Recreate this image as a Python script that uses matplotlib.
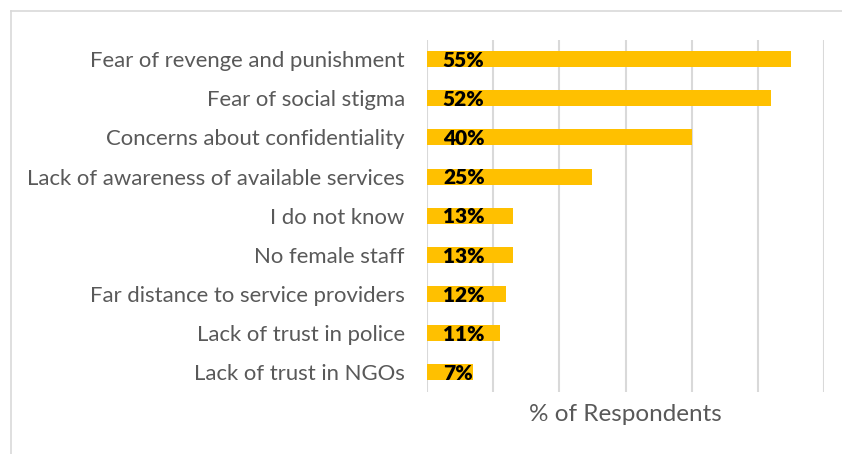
import matplotlib
matplotlib.use("Agg")
import matplotlib.pyplot as plt
from matplotlib.lines import Line2D

# Reasons given for not reporting, share of respondents (%)
reasons = [
    "Fear of revenge and punishment",
    "Fear of social stigma",
    "Concerns about confidentiality",
    "Lack of awareness of available services",
    "I do not know",
    "No female staff",
    "Far distance to service providers",
    "Lack of trust in police",
    "Lack of trust in NGOs",
]
shares = [55, 52, 40, 25, 13, 13, 12, 11, 7]
grid_ticks = [0, 10, 20, 30, 40, 50, 60]

W, H = 842, 454
plt.rcParams["font.family"] = ["Lato", "DejaVu Sans"]
fig = plt.figure(figsize=(W / 100, H / 100), dpi=100)

# axes placed in pixel units
x0, x1 = 427, 824
y_top, y_bot = 39.5, 392
ax = fig.add_axes([x0 / W, 1 - y_bot / H, (x1 - x0) / W, (y_bot - y_top) / H])

gold = "#FFC000"
gray = "#595959"
ypos = list(range(len(reasons)))
ax.barh(ypos, shares, height=0.41, color=gold, zorder=3)

for y, v in zip(ypos, shares):
    ax.text(2.4, y + 0.03, f"{v}%", ha="left", va="center", fontsize=15,
            fontweight="heavy", color="black", zorder=4)

ax.set_xlim(0, 60)
ax.set_ylim(len(reasons) - 0.5, -0.5)
ax.set_xticks(grid_ticks)
ax.set_xticklabels([])
ax.tick_params(axis="x", length=0)
ax.tick_params(axis="y", length=0, pad=16)
ax.set_yticks(ypos)
ax.set_yticklabels(reasons, fontsize=15.9, color=gray)
ax.grid(axis="x", color="#D9D9D9", linewidth=1.5, zorder=0)
for s in ax.spines.values():
    s.set_visible(False)

ax.set_xlabel("% of Respondents", fontsize=17.5, color=gray, labelpad=5)

# light frame around the chart area (only top and left edges visible)
fig.add_artist(Line2D([10.5 / W, 1], [1 - 10.5 / H] * 2, color="#D9D9D9", lw=1.2))
fig.add_artist(Line2D([10.5 / W] * 2, [0, 1 - 10.5 / H], color="#D9D9D9", lw=1.2))

fig.savefig("out.png", dpi=100, facecolor="white")
